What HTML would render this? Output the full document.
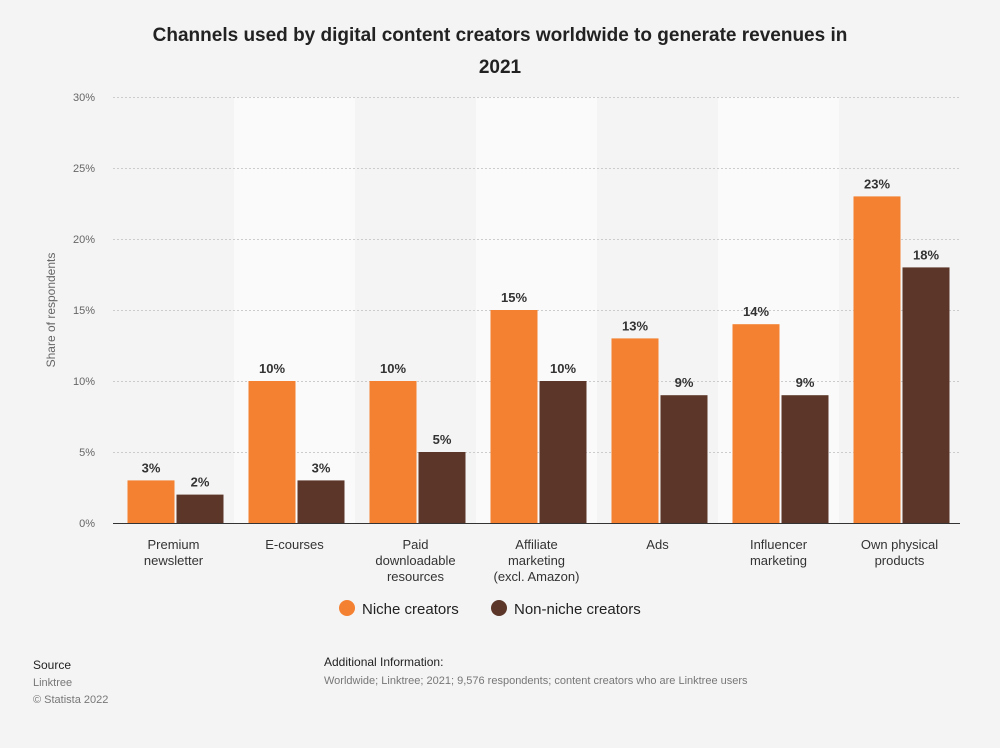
<!DOCTYPE html>
<html><head><meta charset="utf-8">
<style>
body{margin:0;background:#f4f4f4;font-family:"Liberation Sans",Arial,sans-serif;}
#wrap{position:relative;width:1000px;height:743px;background:#f4f4f4;}
</style></head>
<body>
<div id="wrap">
<svg id="chart" width="1000" height="743">
<text x="500" y="41" text-anchor="middle" font-size="19" font-weight="bold" fill="#222">Channels used by digital content creators worldwide to generate revenues in</text>
<text x="500" y="73" text-anchor="middle" font-size="19" font-weight="bold" fill="#222">2021</text>
<text transform="translate(55,310) rotate(-90)" text-anchor="middle" font-size="12" fill="#666">Share of respondents</text>
<g id="bands"></g><g id="grid"></g><g id="bars"></g><g id="labels"></g>
<line x1="113" x2="960" y1="523.5" y2="523.5" stroke="#333" stroke-width="1"/>
<g>
<circle cx="347" cy="608" r="8" fill="#f48131"/>
<text x="362" y="614" font-size="15" fill="#222">Niche creators</text>
<circle cx="499" cy="608" r="8" fill="#5c3729"/>
<text x="514" y="614" font-size="15" fill="#222">Non-niche creators</text>
</g>
<text x="33" y="669" font-size="12" fill="#222">Source</text>
<text x="33" y="686" font-size="11" fill="#777">Linktree</text>
<text x="33" y="703" font-size="11" fill="#777">© Statista 2022</text>
<text x="324" y="666" font-size="12" fill="#222">Additional Information:</text>
<text x="324" y="684" font-size="11" fill="#777">Worldwide; Linktree; 2021; 9,576 respondents; content creators who are Linktree users</text>
</svg>
</div>
<script>
const categories=[["Premium","newsletter"],["E-courses"],["Paid","downloadable","resources"],["Affiliate","marketing","(excl. Amazon)"],["Ads"],["Influencer","marketing"],["Own physical","products"]];
const niche=[3,10,10,15,13,14,23];
const nonNiche=[2,3,5,10,9,9,18];
const yTicks=[0,5,10,15,20,25,30];
const NS="http://www.w3.org/2000/svg";
const x0=113,x1=960,y0=523,y1=97,yMax=30;
const bw=(x1-x0)/categories.length;
const y=v=>y0-(v/yMax)*(y0-y1);
function mk(tag,attrs,parent){const e=document.createElementNS(NS,tag);for(const k in attrs)e.setAttribute(k,attrs[k]);document.getElementById(parent).appendChild(e);return e;}
categories.forEach((c,i)=>{
  if(i%2===1){const r=mk('rect',{x:x0+i*bw,y:y1,width:bw,height:y0-y1,fill:'#fafafa'},'bands');
  
  }
});
yTicks.forEach(t=>{
  const l=mk('line',{x1:x0,x2:x1,y1:y(t)+0.5,y2:y(t)+0.5,stroke:'#ccc','stroke-dasharray':'2,2'},'grid');
  
  
  const tx=mk('text',{x:95,y:y(t)+4,'text-anchor':'end','font-size':11,fill:'#666'},'grid');
  tx.textContent=t+'%';
  
  
});
const barW=47;
categories.forEach((c,i)=>{
  const cx=x0+i*bw+bw/2;
  const bc=cx+2;
  [[niche[i],bc-1-barW,'#f48131','bar-niche'],[nonNiche[i],bc+1,'#5c3729','bar-non-niche']].forEach(([v,bx,col,nm])=>{
    const r=mk('rect',{x:bx,y:y(v),width:barW,height:y0-y(v),fill:col},'bars');
    
    
    const t=mk('text',{x:bx+barW/2,y:y(v)-8,'text-anchor':'middle','font-size':13,'font-weight':'bold',fill:'#333'},'labels');
    t.textContent=v+'%';
    
    
  });
  c.forEach((line,j)=>{
    const t=mk('text',{x:cx,y:549+j*16,'text-anchor':'middle','font-size':13,fill:'#333'},'labels');
    t.textContent=line;
    
    
  });
});
</script>
</body></html>
